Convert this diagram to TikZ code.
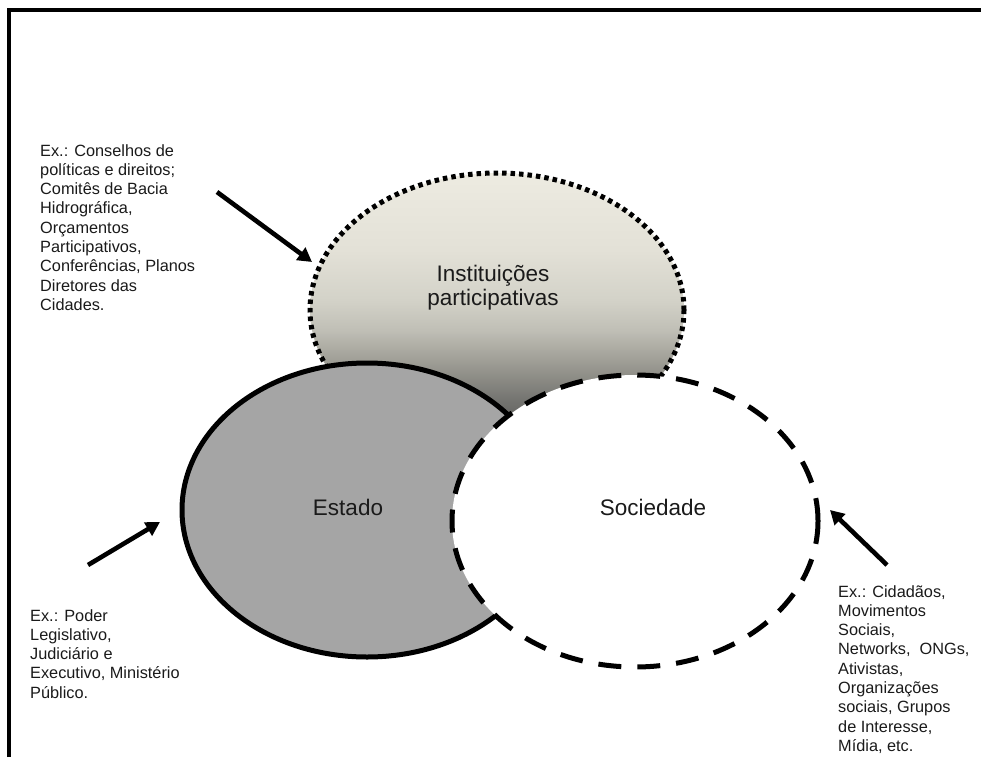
\documentclass[tikz,border=0pt]{standalone}
\usepackage{fontspec}
\setmainfont{Liberation Sans}
\usepackage{tikz}
\usetikzlibrary{positioning, arrows.meta, shapes.geometric, calc}
\definecolor{estadogray}{HTML}{A5A5A5}
\definecolor{txt}{HTML}{1A1A1A}
\pgfdeclareverticalshading{instshade}{100bp}{%
	color(0bp)=(black!70); color(25bp)=(black!70);
	color(33.6bp)=({rgb,255:red,116;green,116;blue,112});
	color(40.9bp)=({rgb,255:red,160;green,159;blue,151});
	color(46.4bp)=({rgb,255:red,192;green,191;blue,182});
	color(51.8bp)=({rgb,255:red,211;green,210;blue,200});
	color(61bp)=({rgb,255:red,227;green,225;blue,215});
	color(75bp)=({rgb,255:red,237;green,235;blue,225});
	color(100bp)=({rgb,255:red,237;green,235;blue,225})}

\begin{document}
\begin{tikzpicture}[x=1pt, y=-1pt,
		exbox/.style={align=left, inner sep=0pt, anchor=north west, text=txt, font=\fontsize{16.3}{19.3}\selectfont},
		setname/.style={inner sep=0pt, align=center, text=txt, font=\fontsize{22.5}{24}\selectfont},
		setshape/.style={ellipse, draw, inner sep=0pt, line width=5pt},
		pointer/.style={-{Triangle[length=14pt, width=15pt]}, line width=4.6pt}]
		\useasboundingbox (0,0) rectangle (981,757);
		% frame
		\draw[line width=3.5pt] (9,757) -- (9,10) -- (981,10);
		% the three sets
		\node[setshape, minimum width=374, minimum height=274, shading=instshade, dash pattern=on 4.5pt off 4pt] (inst) at (497,310) {};
		\node[setshape, minimum width=370, minimum height=294, fill=estadogray] (estado) at (367,510) {};
		\node[setshape, minimum width=366, minimum height=292, fill=white, dash pattern=on 23pt off 16pt] (soc) at (635,521) {};
		% set names
		\node[setname, anchor=north] (instlbl) at (493,265) {Instituições\\participativas};
		\node[setname] (estadolbl) at (348,507) {Estado};
		\node[setname] (soclbl) at (653,507) {Sociedade};
		% examples
		\node[exbox] (exinst) at (40,144) {Ex.: Conselhos de\\políticas e direitos;\\Comitês de Bacia\\Hidrográfica,\\Orçamentos\\Participativos,\\Conferências, Planos\\Diretores das\\Cidades.};
		\node[exbox] (exestado) at (30,609) {Ex.: Poder\\Legislativo,\\Judiciário e\\Executivo, Ministério\\Público.};
		\node[exbox] (exsoc) at (838,585) {Ex.: Cidadãos,\\Movimentos\\Sociais,\\Networks,\ \ ONGs,\\Ativistas,\\Organizações\\sociais, Grupos\\de Interesse,\\Mídia, etc.};
		% arrows
		\coordinate (insttail) at (217,192);
		\coordinate (insttip) at (312,262);
		\coordinate (estadotail) at (88,565);
		\coordinate (estadotip) at (160,522);
		\coordinate (soctail) at (887,565);
		\coordinate (soctip) at (830,510);
		\draw[pointer] (insttail) -- (insttip);
		\draw[pointer] (estadotail) -- (estadotip);
		\draw[pointer] (soctail) -- (soctip);
	\end{tikzpicture}
\end{document}
